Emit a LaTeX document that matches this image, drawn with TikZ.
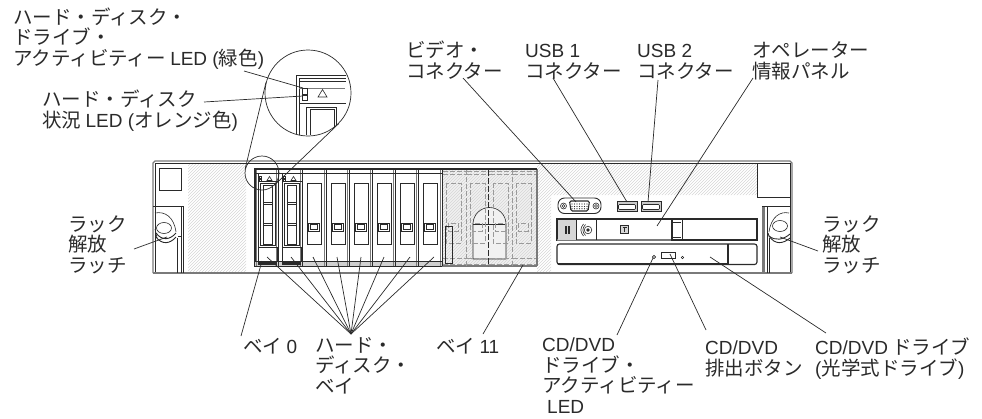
\documentclass[tikz,border=0pt]{standalone}
\usepackage{fontspec}
\setmainfont{Noto Sans CJK JP}
\newfontfamily\latf{Liberation Sans}
\newcommand{\la}[1]{{\latf\fontsize{19}{20}\selectfont #1}}
\newcommand{\lblfont}{\fontsize{19.5}{20.5}\selectfont\lineskiplimit=-50pt\relax}
\definecolor{ink}{HTML}{2A2A2A}
\definecolor{midg}{HTML}{7A7A7A}
\definecolor{hatchg}{HTML}{D6D6D6}
\definecolor{ghost}{HTML}{9A9A9A}
\definecolor{ghostfill}{HTML}{F1F1F1}
\tikzset{
  lbl/.style={anchor=base west,inner sep=0pt,align=left,text=ink,font=\lblfont},
  leader/.style={draw=ink,line width=0.7pt},
  part/.style={draw=ink,line width=0.9pt},
  thin part/.style={draw=ink,line width=0.6pt},
  sep/.style={draw=midg,line width=1.1pt},
  ghostline/.style={draw=ghost,line width=0.9pt,dash pattern=on 5pt off 2pt},
  hatchline/.style={draw=hatchg,line width=0.5pt},
}
\begin{document}
\begin{tikzpicture}[x=1pt,y=-1pt]
\useasboundingbox (0,0) rectangle (982,418);
% hatching
\begin{scope}
\clip (188,164) rectangle (246,272);
\foreach \i in {-130,-127,...,80}{\draw[hatchline] (180+\i,280) -- (180+\i+120,160);}
\end{scope}
\begin{scope}
\clip (537,164) -- (757,164) -- (757,195) -- (551,195) -- (551,272) -- (537,272) -- cycle;
\foreach \i in {-130,-127,...,240}{\draw[hatchline] (530+\i,280) -- (530+\i+120,160);}
\end{scope}
% chassis
\draw[part,draw=midg,line width=1.2pt] (153,273) -- (153,163) -- (155,161) -- (790,161) -- (792,163) -- (792,273);
\draw[thin part] (155,273) -- (155,163.5) -- (790,163.5) -- (790,273);
\draw[part,draw=midg,line width=1.2pt] (153,273) -- (792,273);
\draw[part] (159,168) rectangle (181,190);
\draw[part] (757,164) -- (757,197) -- (790,197);
% left latch
\draw[part] (153,206) -- (183,206) -- (183,273);
\draw[thin part] (181,206) -- (181,273);
\draw[thin part] (177,238) -- (177,273);
\draw[thin part] (155,213) .. controls (165,211) and (174,217) .. (176,232);
\draw[thin part] (164,228) ellipse (7.5 and 5.5);
\draw[part] (156,233) .. controls (162,241) and (170,240) .. (176,233);
\draw[part] (156,237) .. controls (162,245) and (170,244) .. (176,237);
\draw[thin part] (155,229) -- (157,238);
\draw[thin part] (178,236) -- (181,236) -- (181,239);
% right latch
\draw[sep,line width=2.5pt] (763.5,206) -- (763.5,273);
\draw[part] (762,206) -- (790,206);
\draw[thin part] (767,206) -- (767,273);
\draw[thin part] (769,238) -- (769,273);
\draw[thin part] (789,213) .. controls (780,211) and (771,217) .. (769,232);
\draw[thin part] (780,226) ellipse (7.5 and 5.5);
\draw[part] (768,233) -- (769,236) .. controls (775,241) and (783,240) .. (790,234);
\draw[part] (769,236) .. controls (775,245) and (783,244) .. (790,238);
% ghost drives background
\begin{scope}
\clip (442,170) rectangle (537,266);
\fill[ghostfill] (442,170) rectangle (537,266);
\foreach \i in {-130,-127,...,100}{\draw[hatchline] (440+\i,280) -- (440+\i+120,160);}
\end{scope}
% drive bay frame
\draw[midg,line width=1.8pt] (537,169) -- (537,266);
\draw[midg,line width=1.4pt] (442,266) -- (537,266);
\draw[part,line width=1.2pt] (537,169) -- (255,169) -- (255,266) -- (442,266);
\fill[midg!35] (255,261) rectangle (442,266);
\foreach \x in {278,302,326,349,372,395,418,442}{
  \draw[sep] (\x-1.2,170) -- (\x-1.2,266);
  \draw[thin part] (\x+0.5,170) -- (\x+0.5,266);
}
\draw[sep] (256.5,170) -- (256.5,266);
\draw[thin part] (255,173.5) -- (442,173.5);
\draw[thin part] (255,261.5) -- (442,261.5);
% two LED drives
\foreach \x in {255,279}{
  \draw[thin part] (\x+3,174) -- (\x+3,261);
  \draw[thin part] (\x+3,181.5) -- (\x+23,181.5);
  \draw[part] (\x+5,183.5) rectangle (\x+20,245);
  \draw[part] (\x+8,185) rectangle (\x+17,244);
  \draw[thin part] (\x+8,202) -- (\x+17,202);
  \draw[thin part] (\x+8,204.5) -- (\x+17,204.5);
  \draw[thin part] (\x+8,223) -- (\x+17,223);
  \draw[thin part] (\x+8,225.5) -- (\x+17,225.5);
  \draw[thin part] (\x+3,247.5) rectangle (\x+22,261);
  \fill[ink] (\x+3,262) rectangle (\x+22,265);
  \draw[thin part] (\x+4,176.5) rectangle (\x+6.5,178.5);
  \draw[thin part] (\x+4,179) rectangle (\x+6.5,181);
  \draw[thin part] (\x+12,180.5) -- (\x+14.5,176.5) -- (\x+17,180.5) -- cycle;
}
% six blank drives
\foreach \x in {302,326,349,372,395,418}{
  \draw[part] (\x+5,183.5) rectangle (\x+19,244);
  \draw[part] (\x+6,223) rectangle (\x+17,231);
  \draw[thin part] (\x+8,224.5) rectangle (\x+15,229.5);
}
% ghost drives
\draw[thin part,fill=ghostfill] (473,259) -- (473,224) arc (180:360:16.5) -- (506,259) -- cycle;
\draw[thin part] (473,224.5) -- (506,224.5);
\foreach \x in {442,466,489,512}{
  \draw[ghostline] (\x+1,171) -- (\x+24,171);
  \draw[ghostline] (\x+1,174) -- (\x+24,174);
  \draw[ghostline] (\x+1,258.5) -- (\x+24,258.5);
  \draw[ghostline] (\x+1,264) -- (\x+24,264);
  \draw[ghostline] (\x+4,183) rectangle (\x+19,243);
  \draw[ghostline] (\x+6,223) rectangle (\x+16,231);
}
\foreach \x in {466,512}{\draw[ghostline] (\x,170) -- (\x,266);}
\draw[ink,line width=0.6pt,dash pattern=on 6pt off 2pt] (488.5,170) -- (488.5,266);
\draw[thin part] (445.5,226.5) rectangle (452.5,263);
% VGA
\draw[part,rounded corners=6.5pt] (558,198) rectangle (601,213.5);
\draw[thin part] (563.5,206) circle (3); \draw[thin part] (563.5,206) circle (1.5);
\draw[thin part] (596,206) circle (3); \draw[thin part] (596,206) circle (1.5);
\draw[part,line width=1.1pt,rounded corners=1.5pt] (569.5,201) -- (589.5,201) -- (588,211) -- (571,211) -- cycle;
\foreach \x in {572,574.5,...,587}{\fill[ink] (\x,204) circle (0.6); \fill[ink] (\x,206.5) circle (0.6);\fill[ink] (\x,208.8) circle (0.6);}
% USB
\foreach \x in {617,641}{
  \draw[part,draw=ink,fill=midg!40,line width=1pt] (\x,201) rectangle (\x+20,211);
  \draw[thin part,fill=white,rounded corners=1pt] (\x+1.5,204.5) rectangle (\x+18.5,209.5);
}
% operator panel
\draw[part,line width=1.1pt] (557,219) rectangle (757,240);
\draw[part,line width=1.6pt,draw=midg] (557,240) -- (671,240);
\fill[midg!30] (557.5,219.5) rectangle (575.5,239.5);
\draw[part] (576,219) -- (576,240);
\draw[part] (596,219) -- (596,240);
\draw[part] (671,219) -- (671,240);
\draw[thin part] (672.5,219) -- (672.5,240);
\draw[part] (682,219) -- (682,240);
\draw[part] (672,222.5) -- (681,222.5);
\draw[part] (672,237) -- (681,237);
\foreach \x in {565,566.6,568.2,569.8}{\draw[ink,line width=0.9pt] (\x,226) -- (\x,234);}
\draw[thin part] (588,230) circle (3.8);
\fill[ink] (588,230) circle (1.8);
\draw[thin part] (583.5,224) .. controls (580,228) and (580,232) .. (583.5,236);
\draw[thin part] (585.5,224.5) .. controls (582,228) and (582,232) .. (585.5,235.5);
\draw[part,fill=midg!30] (620.5,225) rectangle (628.5,233.5);
\draw[thin part] (622.5,227) -- (626.5,227) (624.5,227) -- (624.5,232);
% CD drive
\draw[part,line width=1.1pt,rounded corners=2.5pt] (557,244) rectangle (757,264.5);
\draw[part,line width=1.4pt] (728,244) -- (728,264);
\draw[part,line width=1.4pt] (558,264) -- (728,264);
\draw[part] (661.5,252) rectangle (675.5,258);
\draw[thin part,fill=midg!50] (654,257) circle (1.7);
\draw[thin part] (682.5,257.5) circle (1.2);
% inset
\draw[part] (296,134) -- (296,75) -- (346,75);
\draw[thin part] (299,135) -- (299,78) -- (346,78);
\draw[thin part] (299,81) -- (346,81);
\draw[midg,line width=1pt] (299,88) -- (345,88);
\draw[thin part] (299,103) -- (346,103);
\draw[part] (306.5,135) -- (306.5,107.5) -- (336.5,107.5) -- (336.5,125);
\draw[part] (310,135) -- (310,109.5) -- (334,109.5) -- (334,127);
\draw[thin part] (302.5,88.5) rectangle (307.5,94);
\draw[thin part] (302.5,95) rectangle (307.5,100);
\draw[thin part] (318,97) -- (322.5,89.5) -- (327,97) -- cycle;
\node[draw=ink,line width=0.7pt,circle,minimum size=86pt,inner sep=0pt,fill=none] (big) at (308,93) {};
\node[draw=ink,line width=0.7pt,circle,minimum size=34pt,inner sep=0pt,fill=none] (small) at (262,173) {};
\draw[leader] (big.166) -- (small.166);
\draw[leader] (big.-45) -- (small.-45);
% labels
\node[lbl] (greenled) at (13,65) {ハード・ディスク・\\ドライブ・\\アクティビティー \la{LED (}緑色\la{)}};
\node[lbl] (orangeled) at (42,127) {ハード・ディスク\\状況 \la{LED (}オレンジ色\la{)}};
\node[lbl] (video) at (406,78) {ビデオ・\\コネクター};
\node[lbl] (usba) at (525,78) {\la{USB 1}\\コネクター};
\node[lbl] (usbb) at (637,78) {\la{USB 2}\\コネクター};
\node[lbl] (oper) at (752,78) {オペレーター\\情報パネル};
\node[lbl] (latchl) at (68,272) {ラック\\解放\\ラッチ};
\node[lbl] (latchr) at (822,272) {ラック\\解放\\ラッチ};
\node[lbl] (bayz) at (243,353) {ベイ \la{0}};
\node[lbl] (bays) at (315,393) {ハード・\\ディスク・\\ベイ};
\node[lbl] (bayl) at (436,353) {ベイ \la{11}};
\node[lbl] (cdled) at (542,413) {\la{CD/DVD}\\ドライブ・\\アクティビティー\\\hspace*{5pt}\la{LED}};
\node[lbl] (eject) at (705,375) {\la{CD/DVD}\\排出ボタン};
\node[lbl] (cddrive) at (815,375) {\la{CD/DVD} ドライブ\\\la{(}光学式ドライブ\la{)}};
% leader ends
\coordinate (e1) at (244,71); \coordinate (e2) at (303,88);
\coordinate (e3) at (204,102); \coordinate (e4) at (303,96);
\coordinate (e5) at (463,78); \coordinate (e6) at (576,202);
\coordinate (e7) at (553,78); \coordinate (e8) at (627,202);
\coordinate (e9) at (658,80); \coordinate (e10) at (648,202);
\coordinate (e11) at (753,78); \coordinate (e12) at (657,226);
\coordinate (e13) at (134,249); \coordinate (e14) at (167,237);
\coordinate (e15) at (818,251); \coordinate (e16) at (780,237);
\coordinate (e17) at (241,336); \coordinate (e18) at (262,261);
\coordinate (fan) at (351,334);
\coordinate (e19) at (483,334); \coordinate (e20) at (523,265);
\coordinate (e21) at (617,335); \coordinate (e22) at (653,258);
\coordinate (e23) at (706,330); \coordinate (e24) at (670,254);
\coordinate (e25) at (826,333); \coordinate (e26) at (710,257);
\foreach \a/\b in {e1/e2,e3/e4,e5/e6,e7/e8,e9/e10,e11/e12,e13/e14,e15/e16,e17/e18,e19/e20,e21/e22,e23/e24,e25/e26}{\draw[leader] (\a) -- (\b);}
\foreach \n/\x in {f1/267,f2/291,f3/313,f4/337,f5/361,f6/384,f7/410,f8/434}{
  \coordinate (\n) at (\x,257);
  \draw[leader] (fan) -- (\n);
}
\end{tikzpicture}
\end{document}
